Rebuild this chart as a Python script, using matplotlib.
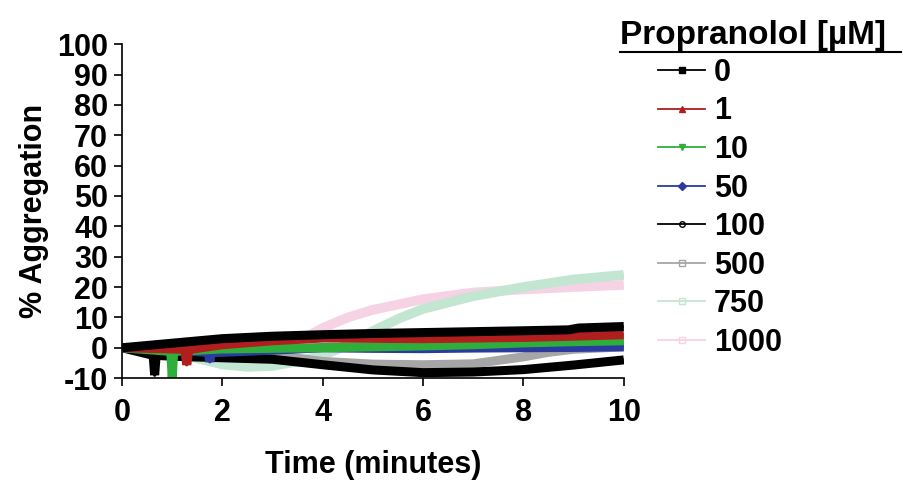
import matplotlib
matplotlib.use("Agg")
import matplotlib.pyplot as plt
from matplotlib.lines import Line2D

plt.rcParams['font.family'] = ['Liberation Sans Narrow', 'Liberation Sans', 'DejaVu Sans']
plt.rcParams['font.weight'] = 'bold'
plt.rcParams['axes.unicode_minus'] = False

# concentrations (legend labels)
labels = ['0', '1', '10', '50', '100', '500', '750', '1000']
colors = ['#000000', '#b01e1e', '#2fae3c', '#2b3a9e', '#000000', '#a6a6a6', '#c3e6d3', '#f6d3e4']
markers = ['s', '^', 'v', 'D', 'o', 's', 's', 's']
fills = ['full', 'full', 'full', 'full', 'none', 'none', 'none', 'none']

# time (minutes) and % aggregation per series
t0 = [0, 1, 2, 3, 4, 5, 6, 7, 8, 8.9, 9.1, 10]
y0 = [0, 1.5, 3.0, 3.8, 4.3, 4.7, 5.0, 5.3, 5.6, 5.9, 6.5, 7.0]
t1 = [0, 1.25, 1.29, 1.33, 2, 3, 4, 5, 6, 7, 8, 9, 10]
y1 = [0, -0.5, -5.6, -0.6, 1.0, 2.3, 3.2, 3.1, 3.0, 3.2, 3.4, 3.8, 4.3]
t2 = [0, 0.97, 1.0, 1.03, 2, 3, 4, 5, 6, 7, 8, 9, 10]
y2 = [0, -1.2, -10, -1.2, -0.4, -0.2, 0, 0.3, 0.6, 1.0, 1.6, 2.0, 2.3]
t3 = [0, 1.72, 1.75, 1.78, 2, 3, 4, 5, 6, 7, 8, 9, 10]
y3 = [0, -1.5, -4.6, -1.6, -1.5, -0.8, 0, -0.2, -0.3, -0.1, 0, 0.1, 0.3]
t4 = [0, 0.62, 0.65, 0.68, 1, 2, 3, 4, 5, 6, 7, 8, 9, 10]
y4 = [0, -2.5, -9, -2.5, -2.8, -3.3, -3.8, -5.6, -7.3, -8.2, -8.0, -7.2, -5.7, -4.0]
t5 = [2, 2.6, 3, 4, 5, 6, 7, 8, 8.5, 9, 10]
y5 = [-1.5, -2.4, -2.4, -4.5, -5.4, -5.6, -5.3, -3.0, -1.5, -0.5, 0.3]
t6 = [1, 1.5, 2, 2.5, 3, 3.5, 4, 4.5, 5, 5.5, 6, 7, 8, 9, 10]
y6 = [-1.5, -3.5, -5.5, -6.3, -6.0, -4.5, -2.5, 1.0, 5.5, 9.5, 12.8, 17.0, 20.0, 22.5, 24.0]
t7 = [2, 2.5, 3, 3.5, 4, 4.5, 5, 6, 7, 8, 9, 10]
y7 = [-1.5, -2.5, -1.5, 2.0, 6.5, 10.0, 12.5, 16.0, 18.2, 19.2, 20.0, 20.7]

series = [(t0, y0), (t1, y1), (t2, y2), (t3, y3), (t4, y4), (t5, y5), (t6, y6), (t7, y7)]

fig = plt.figure(figsize=(9.04, 4.86), dpi=100)
ax = fig.add_axes([0.135, 0.222, 0.555, 0.687])

# pale series go underneath, 0 uM on top
order = [7, 6, 5, 4, 3, 2, 1, 0]
for k, i in enumerate(order):
    t, y = series[i]
    lw = 6.5 if i not in (6, 7) else 7
    ax.plot(t, y, color=colors[i], lw=lw, solid_capstyle='butt', solid_joinstyle='bevel',
            zorder=2 + k * 0.1)
    # thin trace so the short spikes reach their tips
    ax.plot(t, y, color=colors[i], lw=2.5, solid_capstyle='butt', solid_joinstyle='round',
            zorder=2 + k * 0.1)

ax.set_xlim(0, 10)
ax.set_ylim(-10, 100)
ax.set_xticks([0, 2, 4, 6, 8, 10])
ax.set_yticks(range(-10, 101, 10))
ax.spines['top'].set_visible(False)
ax.spines['right'].set_visible(False)
ax.tick_params(direction='out', length=6, width=1.2, labelsize=22, pad=4)
ax.tick_params(axis='x', pad=8)
for s in ['left', 'bottom']:
    ax.spines[s].set_linewidth(1.2)

ax.set_xlabel('Time (minutes)', fontsize=22, fontweight='bold', labelpad=16)
ax.set_ylabel('% Aggregation', fontsize=22, fontweight='bold', labelpad=6)

handles = [Line2D([], [], color=colors[i], marker=markers[i], fillstyle=fills[i],
                  markersize=4, lw=1.3, markerfacecolor=colors[i] if fills[i] == 'full' else 'white')
           for i in range(8)]
leg = fig.legend(handles, labels, loc='upper left', bbox_to_anchor=(0.728, 0.881),
                 frameon=False, fontsize=22, handlelength=1.55, handletextpad=0.28,
                 labelspacing=0.28, borderpad=0, borderaxespad=0)

fig.text(0.686, 0.896, 'Propranolol [\u00b5M]', fontsize=24, fontweight='bold', va='bottom')
fig.add_artist(Line2D([0.686, 0.997], [0.893, 0.893], color='black', lw=1.5,
                      transform=fig.transFigure))

fig.savefig('out.png', dpi=100)
